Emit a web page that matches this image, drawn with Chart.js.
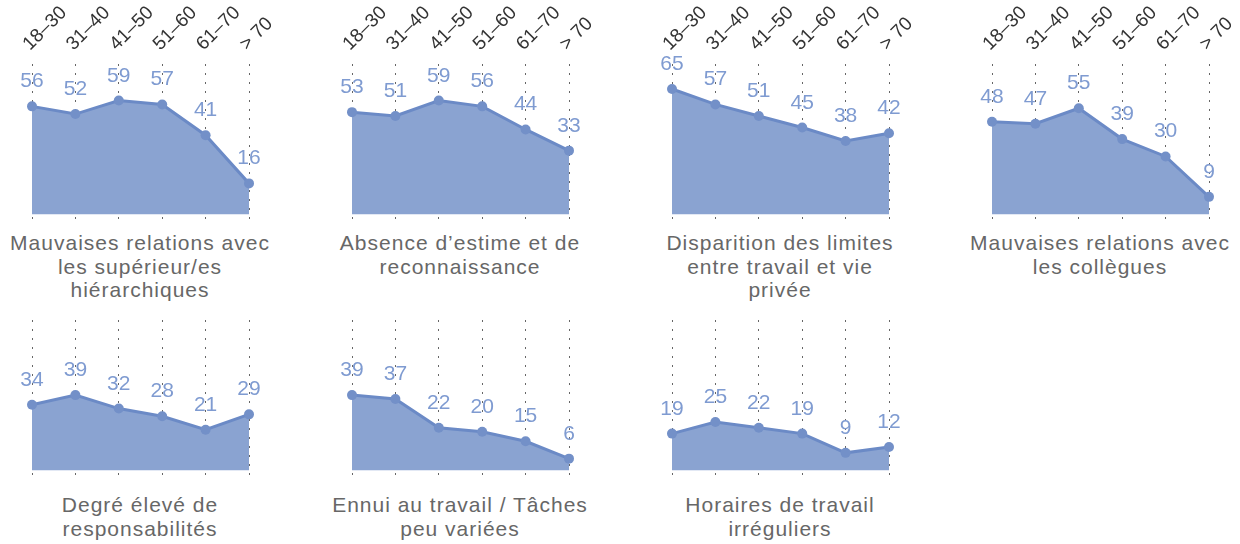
<!DOCTYPE html>
<html>
<head>
<meta charset="utf-8">
<script src="https://cdn.jsdelivr.net/npm/chart.js@4"></script>
<style>
  body { margin: 0; background: #fff; width: 1240px; height: 544px; overflow: hidden; position: relative; font-family: "Liberation Sans", Arial, sans-serif; }
  canvas { position: absolute; }
  .title { position: absolute; width: 280px; text-align: center; white-space: nowrap; font-size: 21px; line-height: 23.5px; color: #676767; letter-spacing: 1px; }
</style>
</head>
<body>
<script>
'use strict';

// age groups on the x axis
let ageGroups = ['18–30', '31–40', '41–50', '51–60', '61–70', '> 70'];

// one array per small chart (values in %)
let relSuperieurs = [56, 52, 59, 57, 41, 16];
let absenceEstime = [53, 51, 59, 56, 44, 33];
let limitesPrivee = [65, 57, 51, 45, 38, 42];
let relCollegues = [48, 47, 55, 39, 30, 9];
let responsabilites = [34, 39, 32, 28, 21, 29];
let ennuiTravail = [39, 37, 22, 20, 15, 6];
let horairesIrreg = [19, 25, 22, 19, 9, 12];

let titles = [
  ['Mauvaises relations avec', 'les supérieur/es', 'hiérarchiques'],
  ['Absence d’estime et de', 'reconnaissance'],
  ['Disparition des limites', 'entre travail et vie', 'privée'],
  ['Mauvaises relations avec', 'les collègues'],
  ['Degré élevé de', 'responsabilités'],
  ['Ennui au travail / Tâches', 'peu variées'],
  ['Horaires de travail', 'irréguliers']
];

let allSeries = [relSuperieurs, absenceEstime, limitesPrivee, relCollegues,
  responsabilites, ennuiTravail, horairesIrreg];

// draws the number above each point
let valueLabels = {
  id: 'valueLabels',
  afterDatasetsDraw(chart){
    let ctx = chart.ctx;
    let meta = chart.getDatasetMeta(0);
    let values = chart.data.datasets[0].data;
    ctx.save();
    ctx.font = '21px "Liberation Sans", Arial, sans-serif';
    ctx.fillStyle = '#7f9bd1';
    ctx.textAlign = 'center';
    ctx.textBaseline = 'alphabetic';
    for (let i = 0; i < meta.data.length; i++){
      ctx.fillText(String(values[i]), meta.data[i].x, meta.data[i].y - 19);
    }
    ctx.restore();
  }
};

// slanted age labels above the top row (starting at each grid line)
let slantedTicks = {
  id: 'slantedTicks',
  afterDraw(chart, args, opts){
    if (!opts.show) return;
    let ctx = chart.ctx;
    let xScale = chart.scales.x;
    ctx.save();
    ctx.font = '19px "Liberation Sans", Arial, sans-serif';
    ctx.fillStyle = '#333';
    ctx.textAlign = 'left';
    ctx.textBaseline = 'alphabetic';
    for (let i = 0; i < chart.data.labels.length; i++){
      let x = xScale.getPixelForTick(i);
      ctx.save();
      ctx.translate(x - 2, chart.chartArea.top - 13);
      ctx.rotate(-Math.PI / 4);
      ctx.fillText(chart.data.labels[i], 0, 0);
      ctx.restore();
    }
    ctx.restore();
  }
};

function makeChart(index){
  let col = index % 4;
  let row = Math.floor(index / 4);
  let top = row === 0 ? 0 : 256;

  let canvas = document.createElement('canvas');
  canvas.width = 320;
  canvas.height = 230;
  canvas.style.left = (col * 320) + 'px';
  canvas.style.top = top + 'px';
  document.body.appendChild(canvas);

  let title = document.createElement('div');
  title.className = 'title';
  title.style.left = (col * 320) + 'px';
  title.style.top = (row === 0 ? 231 : 493) + 'px';
  title.innerHTML = titles[index].join('<br>');
  document.body.appendChild(title);

  new Chart(canvas.getContext('2d'), {
    type: 'line',
    data: {
      labels: ageGroups,
      datasets: [{
        data: allSeries[index],
        fill: 'origin',
        backgroundColor: '#8aa3d1',
        borderColor: '#6b8ac6',
        borderWidth: 3,
        pointRadius: 5,
        pointBackgroundColor: '#7390c8',
        pointBorderWidth: 0,
        tension: 0,
        clip: false
      }]
    },
    options: {
      responsive: false,
      animation: false,
      layout: { padding: { left: 32, right: 71, top: 0, bottom: 11 } },
      plugins: {
        legend: { display: false },
        tooltip: { enabled: false },
        slantedTicks: { show: row === 0 }
      },
      scales: {
        x: {
          position: 'top',
          grid: { color: '#666', lineWidth: 1, drawTicks: false },
          border: { display: false, dash: [2, 7] },
          ticks: { display: false },
          afterFit: function(scale){ scale.height = 64; }
        },
        y: { display: false, min: -2.5, max: 78 }
      }
    },
    plugins: [valueLabels, slantedTicks]
  });
}

for (let i = 0; i < allSeries.length; i++){
  makeChart(i);
}
</script>
</body>
</html>
